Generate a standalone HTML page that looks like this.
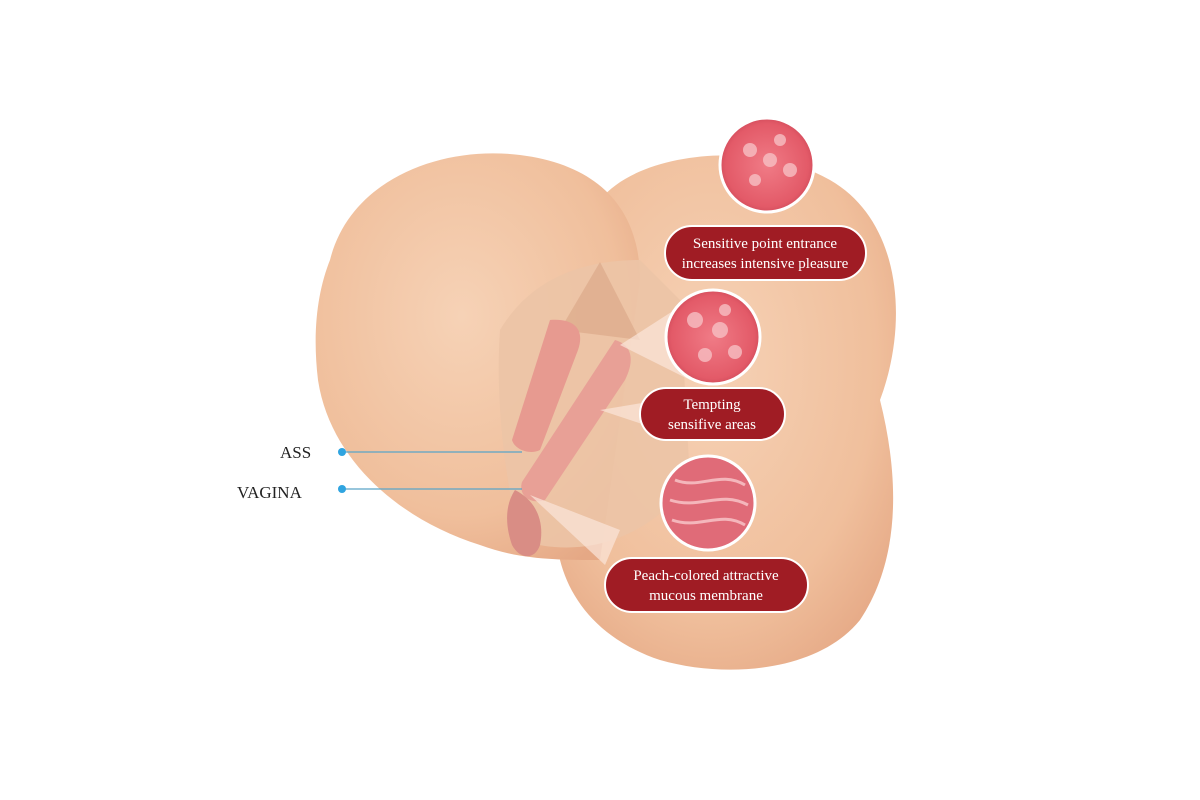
<!DOCTYPE html>
<html><head><meta charset="utf-8"><style>
html,body{margin:0;padding:0;background:#fff;width:1200px;height:800px;overflow:hidden}
svg{display:block}
text{font-family:"Liberation Serif",serif}
</style></head><body>
<svg width="1200" height="800" viewBox="0 0 1200 800">
<defs>
<radialGradient id="sk" cx="45%" cy="40%" r="70%"><stop offset="0" stop-color="#f6d2b6"/><stop offset="0.7" stop-color="#f0bf9c"/><stop offset="1" stop-color="#e5a885"/></radialGradient>
<radialGradient id="pk" cx="50%" cy="50%" r="55%"><stop offset="0" stop-color="#f07b86"/><stop offset="0.8" stop-color="#e35a68"/><stop offset="1" stop-color="#c94555"/></radialGradient>
</defs>
<!-- right lobe -->
<path d="M600 200 C640 150 760 140 830 180 C900 220 910 320 880 400 C900 480 900 560 860 620 C820 670 730 680 660 660 C600 640 570 600 560 560 L560 260 Z" fill="url(#sk)"/>
<!-- left lobe -->
<path d="M330 260 C350 180 440 145 520 155 C600 165 640 210 640 280 L600 560 C560 560 520 560 480 545 C400 520 330 460 318 380 C312 330 318 290 330 260 Z" fill="url(#sk)"/>
<!-- center shading -->
<path d="M500 330 C530 280 580 260 640 260 L680 300 L690 480 C650 540 580 560 520 540 C505 480 495 400 500 330 Z" fill="#ecc4a6" opacity="0.9"/>
<path d="M560 330 L600 262 L640 340 Z" fill="#dba98a" opacity="0.7"/>
<!-- pink channels -->
<path d="M550 320 C575 318 585 330 578 350 L540 450 C530 455 515 450 512 440 Z" fill="#e79a90"/>
<path d="M615 340 C632 345 635 360 625 380 L545 500 C530 505 518 495 522 482 Z" fill="#e8a096"/>
<path d="M515 490 C535 500 545 520 540 545 C535 560 520 560 512 545 C505 525 505 505 515 490 Z" fill="#d98d85"/>
<!-- light beams -->
<polygon points="620,345 690,300 690,380" fill="#fbe6da" opacity="0.7"/>
<polygon points="600,410 660,400 660,430" fill="#fbe6da" opacity="0.7"/>
<polygon points="530,495 620,530 605,565" fill="#fbe6da" opacity="0.7"/>
<!-- circles -->
<circle cx="767" cy="165" r="47" fill="url(#pk)" stroke="#fff" stroke-width="3"/>
<circle cx="713" cy="337" r="47" fill="url(#pk)" stroke="#fff" stroke-width="3"/>
<circle cx="708" cy="503" r="47" fill="#e06b78" stroke="#fff" stroke-width="3"/>
<g fill="#f7c0c4" opacity="0.8">
<circle cx="750" cy="150" r="7"/><circle cx="770" cy="160" r="7"/><circle cx="790" cy="170" r="7"/><circle cx="755" cy="180" r="6"/><circle cx="780" cy="140" r="6"/>
<circle cx="695" cy="320" r="8"/><circle cx="720" cy="330" r="8"/><circle cx="705" cy="355" r="7"/><circle cx="735" cy="352" r="7"/><circle cx="725" cy="310" r="6"/>
</g>
<g stroke="#f9c9cc" stroke-width="3" fill="none" opacity="0.8">
<path d="M675 480 C700 490 720 470 745 485"/><path d="M670 500 C700 510 720 490 748 505"/><path d="M672 520 C700 530 720 510 745 525"/>
</g>
<!-- pills -->
<rect x="665" y="226" width="201" height="54" rx="27" fill="#a01c24" stroke="#fff" stroke-width="2"/>
<text x="765" y="248" fill="#fff" font-size="15" text-anchor="middle">Sensitive point entrance</text>
<text x="765" y="268" fill="#fff" font-size="15" text-anchor="middle">increases intensive pleasure</text>
<rect x="640" y="388" width="145" height="52" rx="26" fill="#a01c24" stroke="#fff" stroke-width="2"/>
<text x="712" y="409" fill="#fff" font-size="15" text-anchor="middle">Tempting</text>
<text x="712" y="429" fill="#fff" font-size="15" text-anchor="middle">sensifive areas</text>
<rect x="605" y="558" width="203" height="54" rx="27" fill="#a01c24" stroke="#fff" stroke-width="2"/>
<text x="706" y="580" fill="#fff" font-size="15" text-anchor="middle">Peach-colored attractive</text>
<text x="706" y="600" fill="#fff" font-size="15" text-anchor="middle">mucous membrane</text>
<!-- labels -->
<line x1="342" y1="452" x2="522" y2="452" stroke="#5aa5c8" stroke-width="1.2"/>
<circle cx="342" cy="452" r="4" fill="#2fa4e0"/>
<line x1="342" y1="489" x2="522" y2="489" stroke="#5aa5c8" stroke-width="1.2"/>
<circle cx="342" cy="489" r="4" fill="#2fa4e0"/>
<text x="280" y="458" font-size="17" fill="#222">ASS</text>
<text x="237" y="498" font-size="17" fill="#222">VAGINA</text>
</svg>
</body></html>
